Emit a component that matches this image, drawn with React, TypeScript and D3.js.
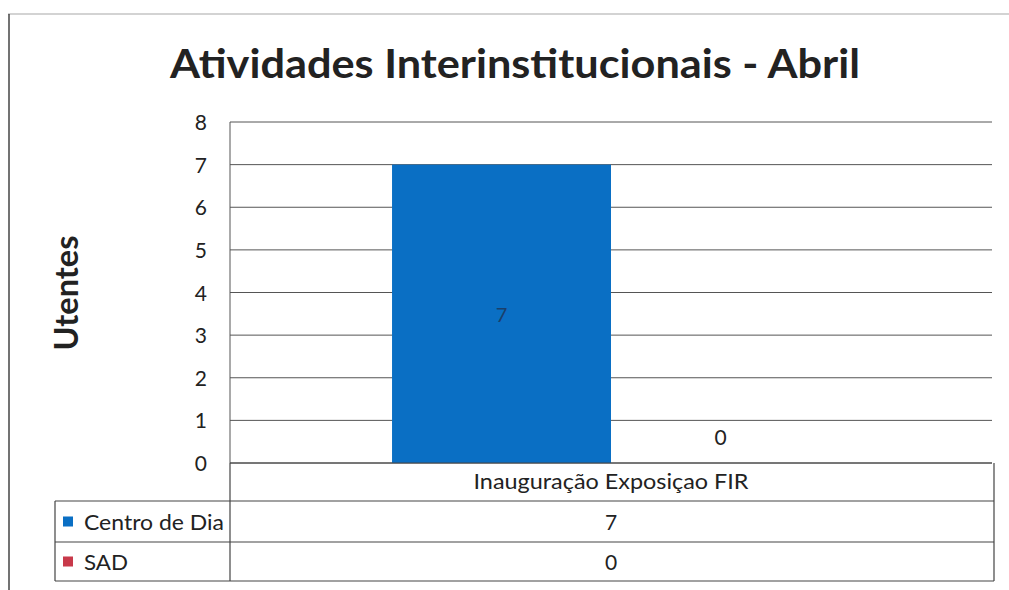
import React from "react";
import * as d3 from "d3";

const title = "Atividades Interinstitucionais  - Abril";
const yAxisTitle = "Utentes";
const categories = ["Inauguração Exposiçao FIR"];
const seriesNames = ["Centro de Dia", "SAD"];
const seriesColors = ["#0a6fc4", "#c8394a"];
const centroDeDia = [7];
const sad = [0];
const yTicks = [0, 1, 2, 3, 4, 5, 6, 7, 8];

const FONT = "Lato, 'Open Sans', sans-serif";

export default function App() {
  const W = 1009, H = 590;
  const plotL = 230, plotR = 992, plotT = 122, plotB = 463;
  const y = d3.scaleLinear().domain([0, 8]).range([plotB, plotT]);
  const x0 = d3.scaleBand<string>().domain(categories).range([plotL, plotR]).paddingInner(0).paddingOuter(0);
  const x1 = d3.scaleBand<string>().domain(seriesNames).range([0, x0.bandwidth()]).paddingInner(0).paddingOuter(0.74);
  const values = [centroDeDia, sad];
  const rowTop = [plotB, 501, 542, 581];
  const tableL = 55;

  return (
    <svg width={W} height={H} style={{ position: "absolute", left: 0, top: 0, background: "#fff" }}>
      <rect x={0} y={0} width={W} height={H} fill="#fff" />
      {/* outer frame */}
      <line x1={8} y1={14} x2={W} y2={14} stroke="#c4c4c4" strokeWidth={1.5} />
      <line x1={9} y1={14} x2={9} y2={H} stroke="#444" strokeWidth={1.5} />

      <text x={515} y={78} textAnchor="middle" fontFamily={FONT} fontWeight="bold" fontSize={40} fill="#222" textLength={690} lengthAdjust="spacingAndGlyphs">{title}</text>

      <text transform={`translate(78,293) rotate(-90)`} textAnchor="middle" fontFamily={FONT} fontWeight="bold" fontSize={32} fill="#222" textLength={115} lengthAdjust="spacingAndGlyphs">{yAxisTitle}</text>

      {/* grid */}
      {yTicks.map((t) => (
        <g key={t}>
          <line x1={plotL} x2={plotR} y1={y(t)} y2={y(t)} stroke="#555" strokeWidth={1} />
          <text x={207} y={y(t) + 8} textAnchor="end" fontFamily={FONT} fontSize={21} fill="#222">{t}</text>
        </g>
      ))}
      <line x1={plotL} x2={plotL} y1={plotT} y2={plotB} stroke="#555" strokeWidth={1} />

      {/* bars */}
      {categories.map((c, ci) => (
        <g key={c}>
          {seriesNames.map((s, si) => {
            const v = values[si][ci];
            const bx = (x0(c) as number) + (x1(s) as number);
            const bw = x1.bandwidth();
            return (
              <g key={s}>
                {v > 0 && <rect x={bx} y={y(v)} width={bw} height={y(0) - y(v)} fill={seriesColors[si]} />}
                <text
                  x={bx + bw / 2}
                  y={v > 0 ? (y(v) + y(0)) / 2 + 8 : y(0) - 18}
                  textAnchor="middle"
                  fontFamily={FONT}
                  fontSize={v > 0 ? 20 : 21}
                  fill={v > 0 ? "#1a3f6b" : "#222"}
                >
                  {v}
                </text>
              </g>
            );
          })}
        </g>
      ))}

      {/* data table */}
      <line x1={plotL} x2={plotR} y1={rowTop[0]} y2={rowTop[0]} stroke="#444" strokeWidth={1.2} />
      {rowTop.slice(1).map((ry, i) => (
        <line key={i} x1={tableL} x2={plotR + 2} y1={ry} y2={ry} stroke="#444" strokeWidth={1.2} />
      ))}
      <line x1={plotL} x2={plotL} y1={plotB} y2={rowTop[3]} stroke="#444" strokeWidth={1.2} />
      <line x1={plotR + 2} x2={plotR + 2} y1={plotB} y2={rowTop[3]} stroke="#444" strokeWidth={1.2} />
      <line x1={tableL} x2={tableL} y1={rowTop[1]} y2={rowTop[3]} stroke="#444" strokeWidth={1.2} />

      {categories.map((c) => (
        <text key={c} x={(x0(c) as number) + x0.bandwidth() / 2} y={489} textAnchor="middle" fontFamily={FONT} fontSize={21} fill="#222" textLength={275} lengthAdjust="spacingAndGlyphs">{c}</text>
      ))}
      {seriesNames.map((s, si) => {
        const cy = (rowTop[si + 1] + rowTop[si + 2]) / 2;
        return (
          <g key={s}>
            <rect x={63} y={cy - 5} width={10} height={10} fill={seriesColors[si]} />
            <text x={84} y={cy + 8} fontFamily={FONT} fontSize={22} fill="#222" textLength={s.length > 5 ? 140 : 44} lengthAdjust="spacingAndGlyphs">{s}</text>
            {categories.map((c, ci) => (
              <text key={c} x={(x0(c) as number) + x0.bandwidth() / 2} y={cy + 8} textAnchor="middle" fontFamily={FONT} fontSize={21} fill="#222">{values[si][ci]}</text>
            ))}
          </g>
        );
      })}
    </svg>
  );
}
